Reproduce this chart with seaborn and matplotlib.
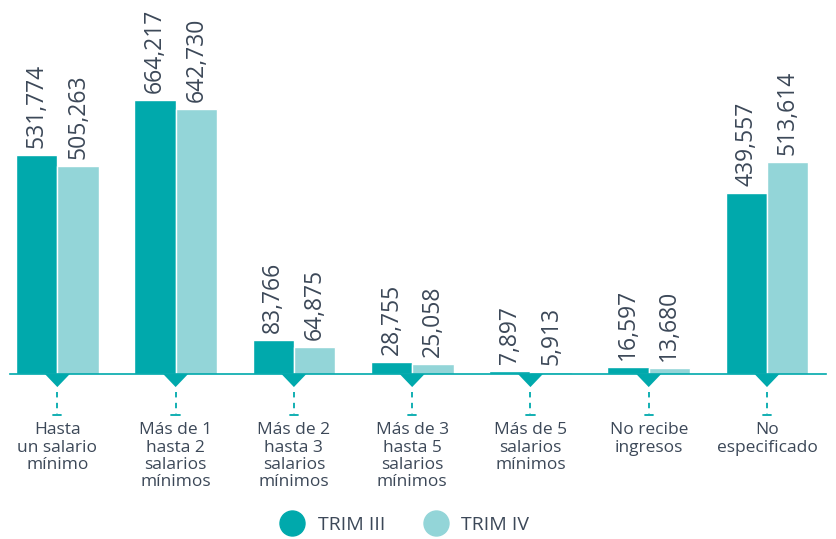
import matplotlib
matplotlib.use("Agg")
import matplotlib.pyplot as plt
from matplotlib.patches import Polygon
from matplotlib.lines import Line2D
import matplotlib.transforms as mtransforms
import seaborn as sns
import pandas as pd

# datos
categorias = ["Hasta\nun salario\nmínimo", "Más de 1\nhasta 2\nsalarios\nmínimos",
              "Más de 2\nhasta 3\nsalarios\nmínimos", "Más de 3\nhasta 5\nsalarios\nmínimos",
              "Más de 5\nsalarios\nmínimos", "No recibe\ningresos", "No\nespecificado"]
trim_iii = [531774, 664217, 83766, 28755, 7897, 16597, 439557]
trim_iv = [505263, 642730, 64875, 25058, 5913, 13680, 513614]
series = ["TRIM III", "TRIM IV"]

c_oscuro = "#00a9ac"
c_claro = "#93d5d8"
c_texto = "#3c4858"

df = pd.DataFrame({
    "cat": categorias * 2,
    "valor": trim_iii + trim_iv,
    "periodo": [series[0]] * len(categorias) + [series[1]] * len(categorias),
})

sns.set_theme(style="white")
plt.rcParams["font.family"] = ["Open Sans", "DejaVu Sans"]

fig = plt.figure(figsize=(8.37, 5.39), dpi=100)
ax = fig.add_axes([0.012, 0.306, 0.975, 0.694])

sns.barplot(data=df, x="cat", y="valor", hue="periodo", palette=[c_oscuro, c_claro],
            width=0.7, gap=0, legend=False, ax=ax, saturation=1)

for cont in ax.containers:
    ax.bar_label(cont, labels=[f"{v:,.0f}" for v in cont.datavalues], rotation=90,
                 padding=5, fontsize=16.5, color=c_texto)

ax.set_xlim(-0.4, 6.5)
ax.set_ylim(0, 906700)
ax.set_xlabel("")
ax.set_ylabel("")
ax.set_xticks([])
ax.set_yticks([])
for s in ["top", "left", "right"]:
    ax.spines[s].set_visible(False)
ax.spines["bottom"].set_color(c_oscuro)
ax.spines["bottom"].set_linewidth(1.2)

# marcas bajo el eje
trans = mtransforms.blended_transform_factory(ax.transData, ax.transAxes)
h = 374.0
for i, cat in enumerate(categorias):
    tri = Polygon([(i - 0.105, 0), (i + 0.105, 0), (i, -13 / h)], closed=True,
                  transform=trans, color=c_oscuro, clip_on=False, lw=0)
    ax.add_patch(tri)
    ax.plot([i, i], [-18 / h, -40 / h], transform=trans, color=c_oscuro, lw=1.3,
            ls=(0, (3, 3)), clip_on=False)
    ax.plot([i - 0.035, i + 0.035], [-41 / h, -41 / h], transform=trans, color=c_oscuro,
            lw=1.3, clip_on=False)
    ax.text(i, -48 / h, cat, transform=trans, ha="center", va="top", fontsize=12.5,
            color=c_texto, linespacing=1.12)

handles = [Line2D([], [], ls="", marker="o", markersize=18, color=c) for c in [c_oscuro, c_claro]]
fig.legend(handles, series, loc="center", bbox_to_anchor=(0.479, 0.026), ncol=2,
           frameon=False, fontsize=14, labelcolor=c_texto, handletextpad=0.3,
           columnspacing=1.6)

fig.savefig("out.png", dpi=100)
